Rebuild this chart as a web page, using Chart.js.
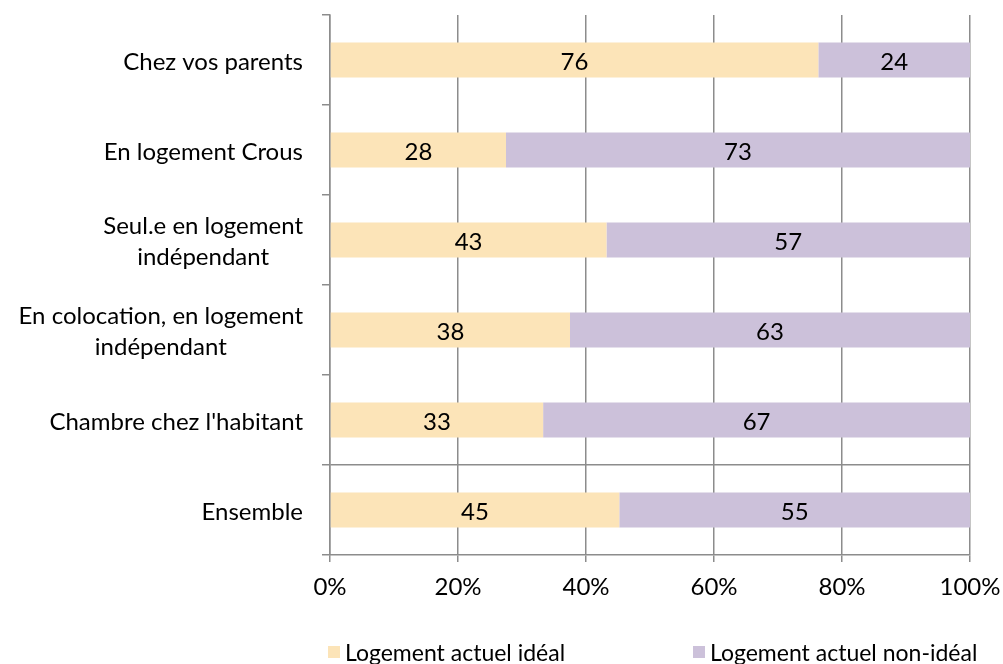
<!DOCTYPE html>
<html>
<head>
<meta charset="utf-8">
<script src="https://cdn.jsdelivr.net/npm/chart.js@4"></script>
<style>
  body { margin: 0; background: #fff; }
  #wrap { position: relative; width: 1003px; height: 664px; overflow: hidden; }
  #legend { position: absolute; left: 328px; top: 638px; display: flex; font-family: Lato, sans-serif; font-size: 23px; color: #000; }
  #legend .item { display: flex; align-items: center; width: 365px; white-space: nowrap; }
  #legend .box { width: 12px; height: 12px; margin-right: 5px; }
</style>
</head>
<body>
<div id="wrap">
  <canvas id="chart" width="1003" height="664"></canvas>
  <div id="legend"></div>
</div>
<script>
const categories = [
    ['Chez vos parents'],
    ['En logement Crous'],
    ['Seul.e en logement', 'indépendant'],
    ['En colocation, en logement', 'indépendant'],
    ["Chambre chez l'habitant"],
    ['Ensemble']
];
const seriesNames = ['Logement actuel idéal', 'Logement actuel non-idéal'];
const ideal = [76.3, 27.5, 43.2, 37.5, 33.3, 45.2];
const nonIdeal = [23.7, 72.5, 56.8, 62.5, 66.7, 54.8];
const seriesColors = ['#fce4b8', '#ccc1da'];
const xTicks = [0, 20, 40, 60, 80, 100];

const FONT = 'Lato, sans-serif';
const GRID = '#8c8c8c';

// category labels: block right-aligned, lines centred within the block
const yLabelsPlugin = {
    id: 'yLabels',
    afterDraw(chart) {
        const ctx = chart.ctx;
        const yScale = chart.scales.y;
        ctx.save();
        ctx.font = '24px ' + FONT;
        ctx.fillStyle = '#000';
        ctx.textAlign = 'center';
        ctx.textBaseline = 'middle';
        const right = yScale.right - 27;
        const lineH = 31;
        categories.forEach((lines, i) => {
            const mid = yScale.getPixelForValue(i);
            const w = Math.max(...lines.map(l => ctx.measureText(l).width));
            const cx = right - w / 2;
            lines.forEach((l, k) => {
                ctx.fillText(l, cx, mid + 2 + (k - (lines.length - 1) / 2) * lineH);
            });
        });
        ctx.restore();
    }
};

// values written in the middle of each segment
const valueLabelsPlugin = {
    id: 'valueLabels',
    afterDatasetsDraw(chart) {
        const ctx = chart.ctx;
        ctx.save();
        ctx.font = '24px ' + FONT;
        ctx.fillStyle = '#000';
        ctx.textAlign = 'center';
        ctx.textBaseline = 'middle';
        chart.data.datasets.forEach((ds, di) => {
            chart.getDatasetMeta(di).data.forEach((bar, i) => {
                const x = (bar.x + bar.base) / 2;
                ctx.fillText(Math.round(ds.data[i]), x, bar.y + 2);
            });
        });
        ctx.restore();
    }
};

const chart = new Chart(document.getElementById('chart'), {
    type: 'bar',
    data: {
        labels: categories.map(c => c.join(' ')),
        datasets: [
            { label: seriesNames[0], data: ideal, backgroundColor: seriesColors[0] },
            { label: seriesNames[1], data: nonIdeal, backgroundColor: seriesColors[1] }
        ]
    },
    options: {
        indexAxis: 'y',
        responsive: false,
        animation: false,
        devicePixelRatio: 1,
        categoryPercentage: 1,
        barPercentage: 0.39,
        layout: { padding: { top: 15, right: 33, left: 0, bottom: 0 } },
        plugins: {
            legend: { display: false },
            tooltip: { enabled: false }
        },
        scales: {
            x: {
                stacked: true,
                min: 0,
                max: 100,
                afterBuildTicks: (scale) => {
                    scale.ticks = xTicks.map(v => ({ value: v }));
                },
                afterFit: (scale) => {
                    scale.height = 109;
                    scale.paddingLeft = 0;
                    scale.paddingRight = 0;
                },
                ticks: {
                    callback: (v) => v + '%',
                    color: '#000',
                    font: { family: FONT, size: 24 },
                    padding: 11,
                    maxRotation: 0
                },
                grid: { color: GRID, lineWidth: 1.5, tickLength: 7, tickColor: GRID },
                border: { color: GRID, width: 1.5 }
            },
            y: {
                stacked: true,
                afterFit: (scale) => { scale.width = 330; },
                ticks: { display: false },
                grid: {
                    offset: true,
                    color: (ctx) => ctx.index === 5 ? GRID : 'rgba(0,0,0,0)',
                    tickColor: GRID,
                    lineWidth: 1.5,
                    tickLength: 8
                },
                border: { color: GRID, width: 1.5 }
            }
        }
    },
    plugins: [yLabelsPlugin, valueLabelsPlugin]
});

const legend = document.getElementById('legend');
chart.data.datasets.forEach(ds => {
    const item = document.createElement('div');
    item.className = 'item';
    const box = document.createElement('span');
    box.className = 'box';
    box.style.background = ds.backgroundColor;
    const txt = document.createElement('span');
    txt.textContent = ds.label;
    item.appendChild(box);
    item.appendChild(txt);
    legend.appendChild(item);
});
</script>
</body>
</html>
